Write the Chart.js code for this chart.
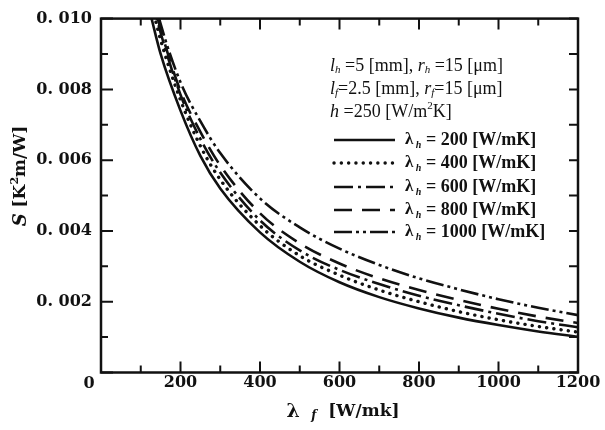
<!DOCTYPE html>
<html lang="en">
<head>
<meta charset="UTF-8">
<title>S vs lambda f</title>
<script src="https://cdn.jsdelivr.net/npm/chart.js@4.4.0/dist/chart.umd.min.js"></script>
<style>
  body { margin: 0; background: #fff; }
  #wrap { width: 605px; height: 430px; }
</style>
</head>
<body>
<div id="wrap"><canvas id="chart" width="605" height="430"></canvas></div>
<script>
// fin conductivity lambda_f [W/mK] and S [K2m/W] for each lambda_h
var lambdaF = [125, 150, 200, 250, 300, 400, 500, 600, 700, 800, 900, 1000, 1100, 1200];
var lambdaH = [200, 400, 600, 800, 1000];
var s200  = [0.0101, 0.0090, 0.0074, 0.00612, 0.0052, 0.00396, 0.00313, 0.00255, 0.00213, 0.00181, 0.00155, 0.00134, 0.00116, 0.00101];
var s400  = [0.0105, 0.0094, 0.0077, 0.0064, 0.00545, 0.00415, 0.0033, 0.00275, 0.00233, 0.0020, 0.00172, 0.00149, 0.0013, 0.00114];
var s600  = [0.0107, 0.0096, 0.00785, 0.0066, 0.00565, 0.0043, 0.00345, 0.0029, 0.0025, 0.00217, 0.0019, 0.00166, 0.00145, 0.00128];
var s800  = [0.0108, 0.0097, 0.00795, 0.0068, 0.00585, 0.0045, 0.00365, 0.00308, 0.00266, 0.00233, 0.00205, 0.0018, 0.00158, 0.0014];
var s1000 = [0.0110, 0.00985, 0.0082, 0.0071, 0.0062, 0.00492, 0.0041, 0.0035, 0.00304, 0.00266, 0.00235, 0.00207, 0.00183, 0.00162];
var xTickLabels = ['200', '400', '600', '800', '1000', '1200'];
var yTickLabels = ['0. 002', '0. 004', '0. 006', '0. 008', '0. 010'];
var originLabel = '0';

var serif = '"DejaVu Serif", serif';
var times = '"Liberation Serif", serif';

function pts(ys) {
    return lambdaF.map(function (x, i) { return {x: x, y: ys[i]}; });
}

function line(ys, dash, width, cap) {
    return {
        data: pts(ys),
        borderColor: '#111',
        borderWidth: width,
        borderDash: dash,
        borderCapStyle: cap,
        pointRadius: 0,
        fill: false,
        cubicInterpolationMode: 'monotone'
    };
}

var datasets = [
    line(s200, [], 2.6, 'butt'),
    line(s400, [0.1, 7.2], 3.4, 'round'),
    line(s600, [19, 5, 3, 5], 2.6, 'butt'),
    line(s800, [18, 10], 2.6, 'butt'),
    line(s1000, [18, 4, 3, 4, 3, 4], 2.6, 'butt')
];

function rich(ctx, x, y, parts) {
    parts.forEach(function (p) {
        ctx.font = p.f;
        ctx.fillText(p.t, x, y + (p.dy || 0));
        x += ctx.measureText(p.t).width;
    });
}
function richWidth(ctx, parts) {
    var w = 0;
    parts.forEach(function (p) { ctx.font = p.f; w += ctx.measureText(p.t).width; });
    return w;
}

var decor = {
    id: 'decor',
    afterDraw: function (chart) {
        var ctx = chart.ctx, a = chart.chartArea;
        var xs = chart.scales.x, ys = chart.scales.y;
        ctx.save();
        ctx.strokeStyle = '#111';
        ctx.fillStyle = '#111';
        ctx.setLineDash([]);

        // frame
        ctx.lineWidth = 2.5;
        ctx.strokeRect(a.left, a.top, a.right - a.left, a.bottom - a.top);

        // inward ticks
        ctx.lineWidth = 2;
        ctx.beginPath();
        xs.ticks.forEach(function (t) {
            var px = xs.getPixelForValue(t.value);
            var len = Math.round(t.value) % 200 === 0 ? 11 : 7;
            ctx.moveTo(px, a.bottom); ctx.lineTo(px, a.bottom - len);
            ctx.moveTo(px, a.top); ctx.lineTo(px, a.top + len);
        });
        ys.ticks.forEach(function (t) {
            var py = ys.getPixelForValue(t.value);
            var len = Math.round(t.value * 1000) % 2 === 0 ? 12 : 7;
            ctx.moveTo(a.left, py); ctx.lineTo(a.left + len, py);
            ctx.moveTo(a.right, py); ctx.lineTo(a.right - 9, py);
        });
        ctx.stroke();

        // origin label
        ctx.textBaseline = 'middle';
        ctx.textAlign = 'center';
        ctx.font = 'bold 16px ' + serif;
        ctx.fillText(originLabel, xs.getPixelForValue(0) - 12, 384);

        // axis titles
        ctx.textAlign = 'left';
        var xt = [
            {t: 'λ', f: 'bold 19px ' + serif},
            {t: '  ', f: '18px ' + serif},
            {t: 'f', f: 'bold italic 12px ' + serif, dy: 4},
            {t: '  [W/mk]', f: 'bold 17px ' + serif}
        ];
        rich(ctx, 343 - richWidth(ctx, xt) / 2, 412, xt);

        var yt = [
            {t: 'S', f: 'bold italic 18px ' + serif},
            {t: ' [K', f: 'bold 17px ' + serif},
            {t: '2', f: 'bold 11px ' + serif, dy: -6},
            {t: 'm/W]', f: 'bold 17px ' + serif}
        ];
        ctx.save();
        ctx.translate(21, 176);
        ctx.rotate(-Math.PI / 2);
        rich(ctx, -richWidth(ctx, yt) / 2, 0, yt);
        ctx.restore();

        // parameter note
        var it = 'italic 18px ' + times, rm = '18px ' + times, sb = 'italic 11px ' + times;
        rich(ctx, 330, 66, [
            {t: 'l', f: it}, {t: 'h', f: sb, dy: 4}, {t: ' =5 [mm], ', f: rm},
            {t: 'r', f: it}, {t: 'h', f: sb, dy: 4}, {t: ' =15 [μm]', f: rm}
        ]);
        rich(ctx, 330, 89, [
            {t: 'l', f: it}, {t: 'f', f: sb, dy: 4}, {t: '=2.5 [mm], ', f: rm},
            {t: 'r', f: it}, {t: 'f', f: sb, dy: 4}, {t: '=15 [μm]', f: rm}
        ]);
        rich(ctx, 330, 112, [
            {t: 'h', f: it}, {t: ' =250 [W/m', f: rm}, {t: '2', f: '11px ' + times, dy: -6}, {t: 'K]', f: rm}
        ]);

        // legend
        var rowY = [140, 163, 187, 210, 232];
        chart.data.datasets.forEach(function (ds, i) {
            var y = rowY[i];
            ctx.save();
            ctx.lineWidth = ds.borderWidth;
            ctx.lineCap = ds.borderCapStyle;
            ctx.setLineDash(ds.borderDash);
            ctx.beginPath();
            ctx.moveTo(334, y); ctx.lineTo(395, y);
            ctx.stroke();
            ctx.restore();
            rich(ctx, 405, y, [
                {t: 'λ', f: 'bold 17px ' + times},
                {t: ' h', f: 'bold italic 10px ' + times, dy: 5},
                {t: ' = ' + lambdaH[i] + ' [W/mK]', f: 'bold 18px ' + times}
            ]);
        });
        ctx.restore();
    }
};

var ctx = document.getElementById('chart').getContext('2d');
var chart = new Chart(ctx, {
    type: 'line',
    data: {datasets: datasets},
    plugins: [decor],
    options: {
        responsive: false,
        animation: false,
        layout: {padding: {top: 17.5, right: 27, left: 0, bottom: 0}},
        plugins: {legend: {display: false}, tooltip: {enabled: false}},
        scales: {
            x: {
                type: 'linear',
                min: 0, max: 1200,
                grid: {display: false, drawTicks: false},
                border: {display: false},
                afterFit: function (s) { s.height = 57.5; },
                ticks: {
                    stepSize: 100, autoSkip: false, maxRotation: 0, padding: 1,
                    color: '#111', font: {family: serif, size: 16, weight: 'bold'},
                    callback: function (v) {
                        var k = Math.round(v);
                        return (k > 0 && k % 200 === 0) ? xTickLabels[k / 200 - 1] : '';
                    }
                }
            },
            y: {
                min: 0, max: 0.010,
                grid: {display: false, drawTicks: false},
                border: {display: false},
                afterFit: function (s) { s.width = 101; },
                ticks: {
                    stepSize: 0.001, autoSkip: false, padding: 9,
                    color: '#111', font: {family: serif, size: 16, weight: 'bold'},
                    callback: function (v) {
                        var k = Math.round(v * 1000);
                        return (k > 0 && k % 2 === 0) ? yTickLabels[k / 2 - 1] : '';
                    }
                }
            }
        }
    }
});
</script>
</body>
</html>
